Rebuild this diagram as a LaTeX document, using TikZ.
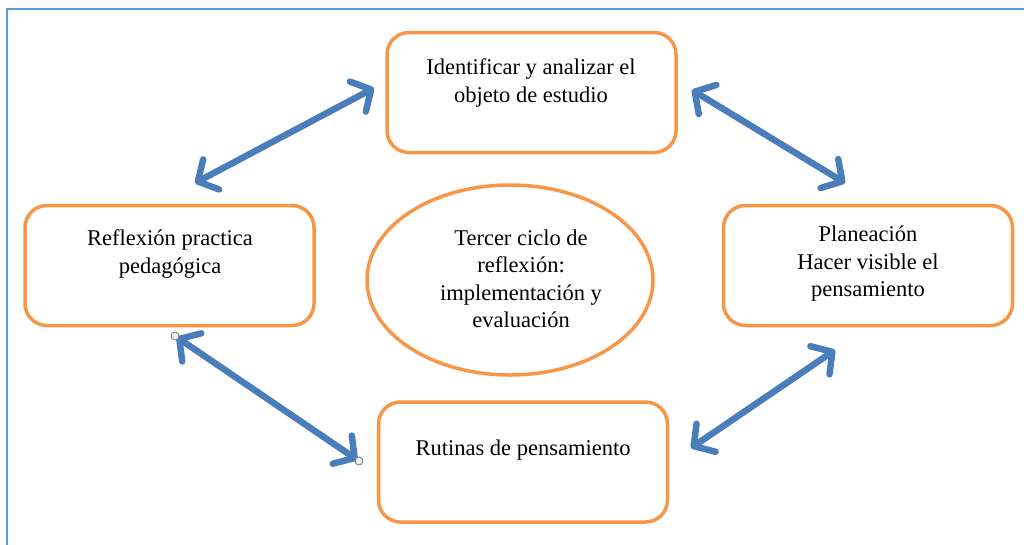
\documentclass[tikz,border=0pt]{standalone}
\usepackage{fontspec}
\setmainfont{Liberation Serif}
\usetikzlibrary{arrows.meta,shapes.geometric,calc}
\definecolor{boxorange}{HTML}{F79646}
\definecolor{arrowblue}{HTML}{4A7EBB}
\definecolor{frameblue}{HTML}{5B9BD5}
\begin{document}
\begin{tikzpicture}[x=1pt,y=-1pt]
\tikzstyle{every node}+=[inner sep=0pt]
\tikzstyle{etapa}=[draw=boxorange, line width=3.5pt, rounded corners=22pt, minimum width=289pt, minimum height=120pt]
\tikzstyle{texto}=[align=center, font=\fontsize{22.5}{27.5}\selectfont]
\tikzstyle{flecha}=[draw=arrowblue, line width=6.5pt, line cap=round, {Straight Barb[length=15pt,width=34pt,line cap=round,line join=round]}-{Straight Barb[length=15pt,width=34pt,line cap=round,line join=round]}]
\tikzstyle{asa}=[circle, draw=gray, fill=cyan!12, line width=0.9pt, minimum size=8pt]
\useasboundingbox (0,0) rectangle (1024,544);
% marco
\draw [frameblue, line width=2pt] (1030,9) -- (7,9) -- (7,550);
% cajas
\node [etapa] (ident) at (531.5,92.5) {};
\node [texto] (ident-t) at (531,83) {Identificar y analizar el\\objeto de estudio};
\node [etapa] (refl) at (169.5,265.5) {};
\node [texto] (refl-t) at (170,254) {Reflexión practica\\pedagógica};
\node [etapa] (plan) at (868,265.5) {};
\node [texto] (plan-t) at (868,264) {Planeación\\Hacer visible el\\pensamiento};
\node [etapa] (rutin) at (523,462) {};
\node [texto] (rutin-t) at (523,450) {Rutinas de pensamiento};
\node [draw=boxorange, line width=3.5pt, ellipse, minimum width=286pt, minimum height=190pt] (ciclo) at (510,280) {};
\node [texto] (ciclo-t) at (521,279) {Tercer ciclo de\\reflexión:\\implementación y\\evaluación};
% puntas de las flechas
\coordinate (a1) at (195,183);
\coordinate (a2) at (374,88);
\coordinate (b1) at (692,90);
\coordinate (b2) at (845,183);
\coordinate (c1) at (835,350);
\coordinate (c2) at (691,448);
\coordinate (h1) at (175,336);
\coordinate (h2) at (359,461);
% flechas
\draw [flecha] (a1) -- (a2);
\draw [flecha] (b1) -- (b2);
\draw [flecha] (c1) -- (c2);
\draw [flecha, shorten <=2pt, shorten >=2pt] (h1) -- (h2);
\node [asa] (asa1) at (h1) {};
\node [asa] (asa2) at (h2) {};
\end{tikzpicture}
\end{document}
